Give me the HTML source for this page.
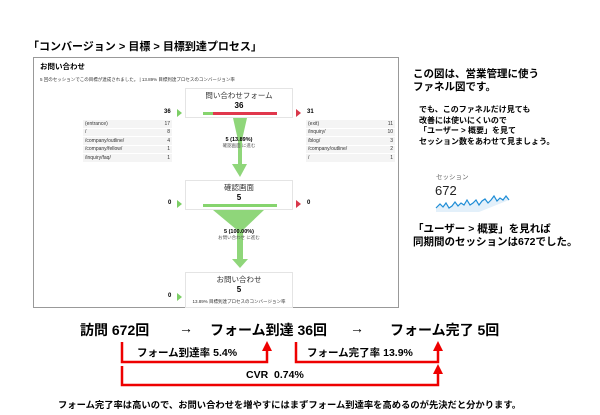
<!DOCTYPE html>
<html><head><meta charset="utf-8"><style>
body{margin:0;width:600px;height:415px;background:#fff;position:relative;overflow:hidden;font-family:"Liberation Sans","Noto Sans CJK JP",sans-serif;color:#000}
.a{position:absolute;white-space:nowrap}
.b{font-weight:bold}
.box{position:absolute;background:#fff;border:1px solid #e4e4e4;box-sizing:border-box;text-align:center}
table{position:absolute;border-collapse:collapse;font-size:5px;color:#333}
td{height:7.5px;padding:0 2px;border-bottom:1px solid #fff;background:#f4f4f4}
td:last-child{text-align:right}
</style></head><body>
<div class="a b" style="left:28px;top:38px;font-size:11px">「コンバージョン &gt; 目標 &gt; 目標到達プロセス」</div>
<div style="position:absolute;left:33px;top:57px;width:366px;height:251px;border:1px solid #999;box-sizing:border-box"></div>
<div class="a b" style="left:40px;top:61px;font-size:7.5px">お問い合わせ</div>
<div class="a" style="left:40px;top:77px;font-size:4.5px;color:#333">5 回のセッションでこの目標が達成されました。 | 13.89% 目標到達プロセスのコンバージョン率</div>
<svg width="600" height="415" style="position:absolute;left:0;top:0">
<path d="M233 118 L247 118 L242 140 L242 164 L247 164 L240 177 L232 164 L238 164 L238 140 Z" fill="#8fd67a"/>
<path d="M213 210 L264 210 L243 230 L243 259 L248 259 L240 268 L232 259 L237 259 L237 230 Z" fill="#8fd67a"/>
<polygon points="177,109 182,113 177,117" fill="#7cce66"/>
<polygon points="296,109 301,113 296,117" fill="#d9374a"/>
<polygon points="177,200 182,204 177,208" fill="#7cce66"/>
<polygon points="296,200 301,204 296,208" fill="#d9374a"/>
<polygon points="177,293 182,297 177,301" fill="#7cce66"/>
<g stroke="#e00" stroke-width="2.5" fill="none">
<path d="M122 342 V362 H267 V349"/><path d="M296 342 V362 H438 V349"/><path d="M122 366 V385 H438 V372"/>
</g>
<g fill="#e00"><polygon points="262,351 272,351 267,341"/><polygon points="433,351 443,351 438,341"/><polygon points="433,374 443,374 438,364"/></g>
<path d="M436 208 l4 -4 l3 3 l3 -4 l3 5 l3 -2 l3 -4 l3 4 l3 -3 l3 2 l3 -5 l3 5 l3 -2 l3 -3 l3 5 l3 -4 l3 -2 l3 4 l3 -3 l3 -4 l3 5 l3 -3 l3 2 l3 -4 l3 4 L479 212 L436 212 Z" fill="#e3f0fa"/>
<path d="M436 208 l4 -4 l3 3 l3 -4 l3 5 l3 -2 l3 -4 l3 4 l3 -3 l3 2 l3 -5 l3 5 l3 -2 l3 -3 l3 5 l3 -4 l3 -2 l3 4 l3 -3 l3 -4 l3 5 l3 -3 l3 2 l3 -4 l3 4" fill="none" stroke="#1f8dd6" stroke-width="1.2"/>
</svg>
<div class="box" style="left:185px;top:88px;width:108px;height:30px">
<div style="font-size:7.5px;color:#333;margin-top:1px">問い合わせフォーム</div><div class="b" style="font-size:8px">36</div>
<div style="position:absolute;left:17px;top:23px;width:74px;height:3px;background:#e0374c"><div style="width:10px;height:3px;background:#86d46e"></div></div></div>
<div class="box" style="left:185px;top:180px;width:108px;height:30px">
<div style="font-size:7.5px;color:#333;margin-top:1px">確認画面</div><div class="b" style="font-size:8px">5</div>
<div style="position:absolute;left:17px;top:23px;width:74px;height:3px;background:#86d46e"></div></div>
<div class="box" style="left:185px;top:272px;width:108px;height:36px">
<div style="font-size:7.5px;color:#333;margin-top:1px">お問い合わせ</div><div class="b" style="font-size:8px">5</div>
<div style="font-size:4.5px;color:#333;margin-top:5px">13.89% 目標到達プロセスのコンバージョン率</div></div>
<div class="a b" style="left:164px;top:109px;font-size:6px">36</div>
<div class="a b" style="left:307px;top:109px;font-size:6px">31</div>
<div class="a b" style="left:168px;top:200px;font-size:6px">0</div>
<div class="a b" style="left:307px;top:200px;font-size:6px">0</div>
<div class="a b" style="left:168px;top:293px;font-size:6px">0</div>
<div class="a" style="left:203px;top:137px;width:72px;text-align:center;font-size:5.5px;line-height:6px"><b>5 (13.89%)</b><br><span style="font-size:4.5px;color:#555">確認画面 に進む</span></div>
<div class="a" style="left:203px;top:229px;width:72px;text-align:center;font-size:5.5px;line-height:6px"><b>5 (100.00%)</b><br><span style="font-size:4.5px;color:#555">お問い合わせ に進む</span></div>
<table style="left:83px;top:120px;width:89px"><tr><td>(entrance)</td><td>17</td></tr><tr><td>/</td><td>8</td></tr><tr><td>/company/outline/</td><td>4</td></tr><tr><td>/company/fellow/</td><td>1</td></tr><tr><td>/inquiry/faq/</td><td>1</td></tr></table>
<table style="left:306px;top:120px;width:89px"><tr><td>(exit)</td><td>11</td></tr><tr><td>/inquiry/</td><td>10</td></tr><tr><td>/blog/</td><td>3</td></tr><tr><td>/company/outline/</td><td>2</td></tr><tr><td>/</td><td>1</td></tr></table>
<div class="a b" style="left:413px;top:68px;font-size:10.5px;line-height:13px">この図は、営業管理に使う<br>ファネル図です。</div>
<div class="a b" style="left:419px;top:105px;font-size:8px;line-height:10.5px">でも、このファネルだけ見ても<br>改善には使いにくいので<br>「ユーザー &gt; 概要」を見て<br>セッション数をあわせて見ましょう。</div>
<div class="a" style="left:436px;top:171px;font-size:6.5px;color:#666">セッション</div>
<div class="a" style="left:435px;top:183px;font-size:13px;color:#222">672</div>
<div class="a b" style="left:413px;top:223px;font-size:10.5px;line-height:13px">「ユーザー &gt; 概要」を見れば<br>同期間のセッションは672でした。</div>
<div class="a b" style="left:80px;top:320px;font-size:14px">訪問 672回</div>
<div class="a b" style="left:179px;top:320px;font-size:14px">→</div>
<div class="a b" style="left:210px;top:320px;font-size:14px">フォーム到達 36回</div>
<div class="a b" style="left:350px;top:320px;font-size:14px">→</div>
<div class="a b" style="left:390px;top:320px;font-size:14px">フォーム完了 5回</div>
<div class="a b" style="left:137px;top:345px;font-size:10.5px">フォーム到達率 5.4%</div>
<div class="a b" style="left:307px;top:345px;font-size:10.5px">フォーム完了率 13.9%</div>
<div class="a b" style="left:246px;top:369px;font-size:10.5px">CVR&nbsp; 0.74%</div>
<div class="a b" style="left:58px;top:397px;font-size:9.3px">フォーム完了率は高いので、お問い合わせを増やすにはまずフォーム到達率を高めるのが先決だと分かります。</div>
</body></html>
